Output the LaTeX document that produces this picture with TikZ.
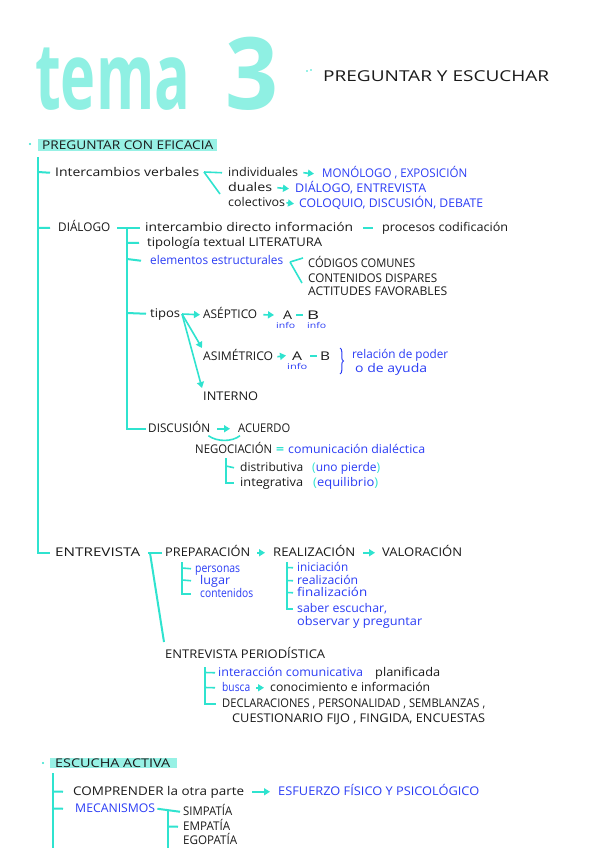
\documentclass[tikz,border=0pt]{standalone}
\usepackage{fontspec}
\setmainfont{Open Sans}
\usetikzlibrary{arrows.meta,decorations.pathreplacing}
\definecolor{tq}{HTML}{2FE3CF}
\definecolor{tqlight}{HTML}{8FF0E3}
\definecolor{hl}{HTML}{97F1E5}
\definecolor{bl}{HTML}{2B3DF5}
\definecolor{ink}{HTML}{1A1A1A}
\newcommand{\fw}[2]{\resizebox{#1pt}{\height}{#2}}
\begin{document}
\begin{tikzpicture}[x=1pt,y=-1pt,
  tx/.style={anchor=base west, inner sep=0pt, text height=9pt, text depth=2.5pt, font=\fontsize{12}{14}\selectfont, text=ink},
  tb/.style={tx, text=bl},
  tab/.style={tx, text depth=0pt},
  tinfo/.style={tb, font=\fontsize{8}{9}\selectfont, text height=4.5pt, text depth=2pt},
  ttl/.style={anchor=base west, inner sep=0pt, text=tqlight},
  tln/.style={draw=tq, line width=2pt},
  tarr/.style={draw=tq, line width=1.6pt, -{Triangle[length=6pt,width=7pt]}},
  hlbox/.style={fill=hl, inner sep=0pt, anchor=north west},
  dotn/.style={circle, fill=tq, inner sep=0pt, minimum size=2.2pt}
]
\useasboundingbox (0,0) rectangle (600,848);
\fill[white] (0,0) rectangle (600,848);

% ---------- title ----------
\node[ttl, font=\fontsize{93}{93}\selectfont\bfseries] (tema) at (35,110) {\fw{155}{tema}};
\node[ttl, font=\fontsize{100}{100}\selectfont\bfseries] (three) at (225,110) {\fw{53}{3}};
\node[dotn, minimum size=1.6pt] (dA) at (307,71) {};
\node[dotn, minimum size=1.6pt] (dB) at (311,70) {};
\node[tx, font=\fontsize{15}{17}\selectfont, text height=11pt] (sub) at (323,82) {\fw{226}{PREGUNTAR Y ESCUCHAR}};

% ---------- PREGUNTAR CON EFICACIA ----------
\node[hlbox, minimum width=179pt, minimum height=12pt] (h1box) at (38,139) {};
\node[dotn] (b1) at (30,144) {};
\node[tx] (h1) at (42,149.5) {\fw{171}{PREGUNTAR CON EFICACIA}};

\node[tx] (inter) at (55,176) {\fw{144}{Intercambios verbales}};
\node[tx] (indiv) at (228,176) {\fw{70}{individuales}};
\node[tb] (mono) at (322,177) {\fw{145}{MONÓLOGO , EXPOSICIÓN}};
\node[tx] (dual) at (228,191) {\fw{44}{duales}};
\node[tb] (dialent) at (295,192) {\fw{131}{DIÁLOGO, ENTREVISTA}};
\node[tx] (colec) at (228,206) {\fw{57}{colectivos}};
\node[tb] (colo) at (299,207) {\fw{184}{COLOQUIO, DISCUSIÓN, DEBATE}};

\node[tx] (dia) at (58,231) {\fw{52}{DIÁLOGO}};
\node[tx] (icd) at (145,231) {\fw{208}{intercambio directo información}};
\node[tx] (proc) at (382,231) {\fw{126}{procesos codificación}};
\node[tx] (tipol) at (147,246) {\fw{175}{tipología textual LITERATURA}};
\node[tb] (elem) at (150,264) {\fw{133}{elementos estructurales}};
\node[tx] (cod) at (308,267) {\fw{107}{CÓDIGOS COMUNES}};
\node[tx] (cont) at (308,282) {\fw{129}{CONTENIDOS DISPARES}};
\node[tx] (acti) at (308,295) {\fw{139}{ACTITUDES FAVORABLES}};

\node[tx] (tipos) at (150,317) {\fw{30}{tipos}};
\node[tx] (asep) at (203,318) {\fw{54}{ASÉPTICO}};
\node[tab] (a1) at (283,319.5) {\fw{9}{A}};
\node[tab] (b1t) at (307,319.5) {\fw{12}{B}};
\node[tinfo] (inf1) at (276,328) {\fw{19}{info}};
\node[tinfo] (inf2) at (307,328) {\fw{19}{info}};
\node[tx] (asim) at (203,360) {\fw{70}{ASIMÉTRICO}};
\node[tab] (a2) at (292,360) {\fw{10}{A}};
\node[tab] (b2) at (320,360) {\fw{10}{B}};
\node[tinfo] (inf3) at (287,369.5) {\fw{20}{info}};
\node[tb] (rel) at (352,358) {\fw{96}{relación de poder}};
\node[tb] (ayu) at (355,372) {\fw{72}{o de ayuda}};
\node[tx] (intern) at (203,400) {\fw{55}{INTERNO}};

\node[tx] (disc) at (148,432) {\fw{62}{DISCUSIÓN}};
\node[tx] (acu) at (238,432) {\fw{52}{ACUERDO}};
\node[tx] (nego) at (195,453) {\fw{77}{NEGOCIACIÓN}};
\node[tx, text=tq] (eq) at (276,453) {\fw{8}{\textbf{=}}};
\node[tb] (comd) at (288,453) {\fw{137}{comunicación dialéctica}};
\node[tx] (distr) at (240,471) {\fw{63}{distributiva}};
\node[tb] (unop) at (312,471) {\fw{68}{{\color{tq}(}uno pierde{\color{tq})}}};
\node[tx] (integ) at (240,486) {\fw{63}{integrativa}};
\node[tb] (equi) at (313,486) {\fw{65}{{\color{tq}(}equilibrio{\color{tq})}}};

% ---------- ENTREVISTA ----------
\node[tx] (ent) at (55,556) {\fw{85}{ENTREVISTA}};
\node[tx] (prep) at (165,556) {\fw{85}{PREPARACIÓN}};
\node[tx] (real) at (273,556) {\fw{82}{REALIZACIÓN}};
\node[tx] (valo) at (382,556) {\fw{80}{VALORACIÓN}};
\node[tb] (pers) at (195,572) {\fw{45}{personas}};
\node[tb] (lug) at (200,584) {\fw{30}{lugar}};
\node[tb] (conts) at (200,597) {\fw{53}{contenidos}};
\node[tb] (inic) at (297,571) {\fw{51}{iniciación}};
\node[tb] (reali) at (297,584) {\fw{61}{realización}};
\node[tb] (fina) at (297,596) {\fw{70}{finalización}};
\node[tb] (sab) at (297,612) {\fw{90}{saber escuchar,}};
\node[tb] (obs) at (297,625) {\fw{125}{observar y preguntar}};
\node[tx] (entp) at (165,658) {\fw{160}{ENTREVISTA PERIODÍSTICA}};
\node[tb] (icom) at (218,676) {\fw{145}{interacción comunicativa}};
\node[tx] (plan) at (375,676) {\fw{65}{planificada}};
\node[tb] (busca) at (222,691) {\fw{28}{busca}};
\node[tx] (cono) at (270,691) {\fw{160}{conocimiento e información}};
\node[tx] (decl) at (222,707) {\fw{263}{DECLARACIONES , PERSONALIDAD , SEMBLANZAS ,}};
\node[tx] (cues) at (232,722) {\fw{253}{CUESTIONARIO FIJO , FINGIDA, ENCUESTAS}};

% ---------- ESCUCHA ACTIVA ----------
\node[hlbox, minimum width=127pt, minimum height=10pt] (h2box) at (50,757.5) {};
\node[dotn] (b2d) at (43,763) {};
\node[tx] (h2) at (55,767.5) {\fw{115}{ESCUCHA ACTIVA}};
\node[tx] (comp) at (73,795) {\fw{171}{COMPRENDER la otra parte}};
\node[tb] (esf) at (278,795) {\fw{201}{ESFUERZO FÍSICO Y PSICOLÓGICO}};
\node[tb] (meca) at (75,812) {\fw{80}{MECANISMOS}};
\node[tx] (simp) at (183,815) {\fw{49}{SIMPATÍA}};
\node[tx] (empa) at (183,830) {\fw{47}{EMPATÍA}};
\node[tx] (egop) at (183,844) {\fw{54}{EGOPATÍA}};

% ---------- connectors ----------
% main trunk
\coordinate (m0) at (38,157);
\draw[tln] (m0) |- ([xshift=-5pt]ent.west);
\draw[tln] (38,172) -- ([xshift=-5pt]inter.west);
\draw[tln] (38,228) -- ([xshift=-8pt]dia.west);
% fan intercambios
\coordinate (fa) at (204,172);
\draw[tln, line width=1.6pt] (fa) -- ([xshift=-6pt]indiv.west);
\draw[tln, line width=1.6pt] (fa) -- (220,194);
\draw[tarr] ([xshift=5pt]indiv.east) -- ([xshift=-8pt]mono.west);
\draw[tarr] ([xshift=5pt]dual.east) -- ([xshift=-6pt]dialent.west);
\draw[tarr] ([xshift=1pt]colec.east) -- ([xshift=-5pt]colo.west);

% dialogo
\draw[tln] ([xshift=7pt]dia.east) -- ([xshift=-5pt]icd.west);
\draw[tln, shorten <=10pt, shorten >=9pt] (icd.east) -- (proc.west);
\coordinate (d0) at (127,229);
\draw[tln] (d0) |- ([xshift=-2pt]disc.west);
\draw[tln] (127,243) -- ([xshift=-8pt]tipol.west);
\draw[tln] (127,259) -- ([xshift=-9pt]elem.west);
\draw[tln] (127,313) -- ([xshift=-4pt]tipos.west);
% fan elementos
\coordinate (fe) at (290,262);
\draw[tln, line width=1.6pt] (fe) -- (303,258);
\draw[tln, line width=1.6pt] (fe) -- (302,283);
% tipos arrows
\coordinate (ft) at (182,314);
\draw[tarr] (ft) -- ([xshift=-3pt]asep.west);
\draw[tarr] (ft) -- (202,348);
\draw[tarr] (ft) -- (202,388);
\draw[tarr] ([xshift=6pt]asep.east) -- ([xshift=-9pt]a1.west);
\draw[tln, shorten <=4pt, shorten >=4pt] (a1.east) -- (b1t.west);
\draw[tarr] ([xshift=4pt]asim.east) -- ([xshift=-6pt]a2.west);
\draw[tln, shorten <=8pt, shorten >=3pt] (a2.east) -- (b2.west);
\draw[draw=bl, line width=1pt, decorate, decoration={brace, amplitude=3.5pt}] (340,348) -- (340,374);
% discusion
\draw[tarr] ([xshift=7pt]disc.east) -- ([xshift=-8pt]acu.west);
\draw[tln, line width=1.6pt] ([xshift=-2pt,yshift=-1pt]disc.south east) .. controls (217,442) and (232,442) .. ([xshift=2pt,yshift=-1pt]acu.south west);
% negociacion bracket
\coordinate (n0) at (226,458);
\draw[tln, line width=1.6pt] (n0) |- ([xshift=-6pt]integ.west);
\draw[tln, line width=1.6pt] (226,466) -- ([xshift=-6pt]distr.west);

% entrevista
\draw[tln] ([xshift=8pt]ent.west -| ent.east) -- ([xshift=-3pt]prep.west);
\coordinate (e0) at (150,553);
\draw[tln] (e0) -- (164,642);
\draw[tarr] ([xshift=7pt]prep.east) -- ([xshift=-8pt]real.west);
\draw[tarr] ([xshift=8pt]real.east) -- ([xshift=-7pt]valo.west);
\coordinate (p0) at (182,562);
\draw[tln, line width=1.6pt] (p0) |- ([xshift=-9pt]conts.west);
\draw[tln, line width=1.6pt] (182,568) -- ([xshift=-4pt]pers.west);
\draw[tln, line width=1.6pt] (182,580) -- ([xshift=-9pt]lug.west);
\coordinate (r0) at (287,562);
\draw[tln, line width=1.6pt] (r0) |- ([xshift=-4pt]sab.west);
\draw[tln, line width=1.6pt] (287,567.5) -- ([xshift=-4pt]inic.west);
\draw[tln, line width=1.6pt] (287,580.5) -- ([xshift=-4pt]reali.west);
\draw[tln, line width=1.6pt] (287,592.5) -- ([xshift=-4pt]fina.west);
\coordinate (q0) at (205,667);
\draw[tln, line width=1.6pt] (q0) |- ([xshift=-6pt]decl.west);
\draw[tln, line width=1.6pt] (205,672.5) -- ([xshift=-3pt]icom.west);
\draw[tln, line width=1.6pt] (205,687.5) -- ([xshift=-7pt]busca.west);
\draw[tarr] ([xshift=6pt]busca.east) -- ([xshift=-6pt]cono.west);

% escucha activa
\coordinate (s0) at (53,773);
\coordinate (s1) at (53,848);
\draw[tln] (s0) -- (s1);
\draw[tln] (53,791.5) -- ([xshift=-10pt]comp.west);
\draw[tln] (53,808.5) -- ([xshift=-12pt]meca.west);
\draw[tarr] ([xshift=8pt]comp.east) -- ([xshift=-8pt]esf.west);
\draw[tln] ([xshift=2pt]meca.east) -- ([xshift=-3pt]simp.west);
\coordinate (k0) at (168,810);
\coordinate (k1) at (168,848);
\draw[tln] (k0) -- (k1);
\draw[tln] (168,826.5) -- ([xshift=-5pt]empa.west);
\end{tikzpicture}
\end{document}
